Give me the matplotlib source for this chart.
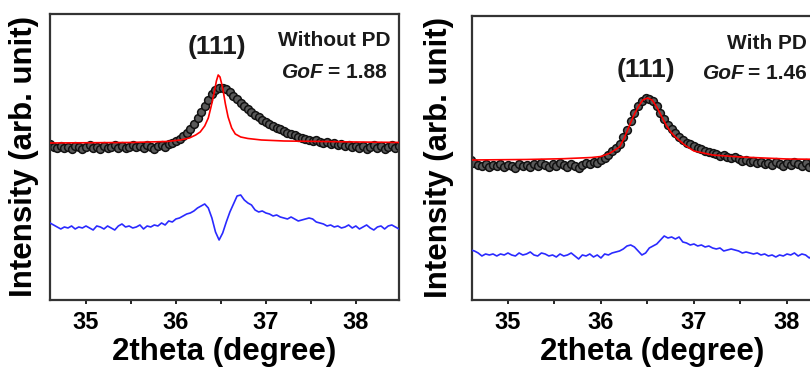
import numpy as np
import matplotlib
matplotlib.use('Agg')
import matplotlib.pyplot as plt

plt.rcParams['font.family'] = ['Liberation Sans', 'DejaVu Sans']
plt.rcParams['font.weight'] = 'bold'

# sampled 2theta grid (every 0.04 degree)
two_theta = np.round(np.linspace(34.60, 38.48, 98), 2)

# --- without PD ---
obs_without = [156, 153, 152, 154, 152, 153, 151, 154, 153, 151,
               153, 155, 152, 153, 151, 154, 152, 153, 155, 152,
               154, 152, 153, 155, 153, 154, 152, 155, 153, 151,
               154, 155, 153, 156, 157, 159, 161, 164, 167, 171,
               176, 182, 188, 194, 200, 206, 210, 212, 212, 211,
               208, 204, 201, 197, 194, 191, 188, 185, 183, 180,
               178, 176, 174, 172, 171, 169, 167, 166, 165, 163,
               162, 161, 160, 159, 160, 158, 157, 158, 156, 157,
               155, 156, 154, 155, 153, 154, 152, 154, 151, 153,
               155, 152, 154, 151, 153, 155, 152, 154]
diff_without = [77, 75, 73, 71, 73, 72, 74, 71, 73, 72,
                74, 72, 70, 74, 73, 71, 74, 72, 70, 74,
                76, 73, 74, 72, 73, 75, 71, 74, 73, 75,
                74, 77, 75, 79, 78, 81, 82, 84, 86, 87,
                89, 92, 94, 96, 92, 82, 68, 60, 67, 78,
                88, 96, 104, 105, 100, 97, 95, 90, 88, 89,
                87, 86, 84, 85, 83, 82, 81, 83, 81, 79,
                80, 81, 82, 81, 78, 77, 76, 74, 75, 73,
                74, 72, 73, 75, 72, 74, 71, 73, 75, 72,
                70, 73, 74, 71, 74, 75, 73, 71]
fit_x_without = [34.60, 35.50, 35.90, 36.05, 36.15, 36.22, 36.27, 36.32, 36.36,
                 36.39, 36.42, 36.45, 36.47, 36.49, 36.52, 36.55, 36.58, 36.62,
                 36.66, 36.72, 36.80, 36.95, 37.20, 37.60, 38.00, 38.50]
fit_y_without = [157, 157.5, 158.5, 160, 162, 165, 168, 174, 182,
                 193, 205, 219, 225, 223, 212, 196, 183, 172,
                 166, 163, 161.5, 160, 159, 158.5, 158, 157.5]

# --- with PD ---
obs_with = [140, 137, 135, 134, 136, 133, 135, 134, 136, 133,
            135, 134, 132, 136, 134, 135, 133, 136, 134, 137,
            135, 133, 136, 134, 137, 135, 133, 136, 134, 132,
            135, 137, 136, 138, 137, 140, 142, 145, 149, 152,
            156, 163, 170, 179, 187, 194, 199, 202, 201, 199,
            194, 187, 181, 175, 171, 167, 163, 160, 157, 156,
            154, 152, 151, 149, 148, 147, 146, 144, 145, 143,
            142, 143, 141, 139, 140, 138, 139, 137, 138, 136,
            137, 135, 138, 136, 134, 137, 135, 138, 136, 134,
            137, 133, 136, 135, 137, 134, 136, 135]
diff_with = [50, 49, 47, 44, 46, 45, 46, 44, 46, 45,
             47, 45, 44, 47, 45, 46, 48, 45, 44, 47,
             46, 44, 45, 43, 46, 44, 45, 47, 44, 41,
             45, 44, 46, 43, 45, 42, 46, 45, 47, 48,
             49, 51, 54, 55, 53, 49, 45, 47, 52, 54,
             56, 60, 64, 62, 63, 61, 63, 58, 57, 55,
             56, 54, 55, 53, 54, 52, 51, 52, 49, 50,
             51, 50, 49, 47, 48, 47, 46, 47, 45, 46,
             44, 45, 43, 45, 44, 46, 45, 47, 44, 46,
             45, 42, 45, 44, 46, 45, 44, 45]
fit_x_with = [34.60, 35.20, 35.60, 35.90, 36.00, 36.10, 36.20, 36.25, 36.30,
              36.35, 36.40, 36.45, 36.50, 36.55, 36.60, 36.65, 36.70, 36.75,
              36.80, 36.90, 37.00, 37.20, 37.50, 38.00, 38.50]
fit_y_with = [140, 140.5, 141.3, 142.5, 143.5, 147, 153, 162, 173,
              184, 193, 200, 202, 200, 193, 184, 175, 168,
              163, 155, 149, 145, 143, 141, 140.5]

fig = plt.figure(figsize=(8.1, 3.67), dpi=100)
ax1 = fig.add_axes([0.0617, 0.1826, 0.4309, 0.7793])
ax2 = fig.add_axes([0.5823, 0.1826, 0.4467, 0.7746])

panels = [
    (ax1, obs_without, diff_without, fit_x_without, fit_y_without,
     (34.60, 38.48), 286, 'Without PD', '= 1.88', (36.46, 253),
     (37.14, 259), (37.18, 37.69), 8),
    (ax2, obs_with, diff_with, fit_x_with, fit_y_with,
     (34.61, 38.50), 284.3, 'With PD', '= 1.46', (36.48, 230),
     (37.36, 257), (37.10, 37.58), 13),
]

for ax, obs, diff, fx, fy, xlim, ytop, name, gof, peak_pos, name_pos, gof_x, lpad in panels:
    ax.plot(two_theta, obs, 'o', ms=5.6, mfc='#5a5a5a', mec='#111111', mew=1.1, zorder=2)
    ax.plot(fx, fy, '-', color='red', lw=1.2, zorder=3)
    ax.plot(two_theta, diff, '-', color='#2a2aff', lw=1.2, zorder=3)

    ax.set_xlim(*xlim)
    ax.set_ylim(0, ytop)
    ax.set_yticks([])
    ax.set_xticks([35, 36, 37, 38])
    ax.set_xticks([35.5, 36.5, 37.5], minor=True)
    ax.tick_params(axis='x', which='major', direction='out', length=3, width=1.2, pad=5, labelsize=17)
    ax.tick_params(axis='x', which='minor', direction='out', length=3, width=1.2)
    for s in ax.spines.values():
        s.set_linewidth(1.6)
        s.set_color('#333333')

    ax.set_xlabel('2theta (degree)', fontsize=22.5, fontweight='bold', labelpad=2)
    ax.set_ylabel('Intensity (arb. unit)', fontsize=22.5, fontweight='bold', labelpad=lpad)

    ax.text(peak_pos[0], peak_pos[1], '(111)', fontsize=19, fontweight='bold',
            ha='center', va='center', color='#1a1a1a')
    ax.text(name_pos[0], name_pos[1], name, fontsize=15, fontweight='bold',
            ha='left', va='center', color='#1a1a1a')
    ax.text(gof_x[0], 227, 'GoF', fontsize=15, fontweight='bold', fontstyle='italic',
            ha='left', va='center', color='#1a1a1a')
    ax.text(gof_x[1], 227, gof, fontsize=15, fontweight='bold',
            ha='left', va='center', color='#1a1a1a')

fig.savefig('out.png', dpi=100)
